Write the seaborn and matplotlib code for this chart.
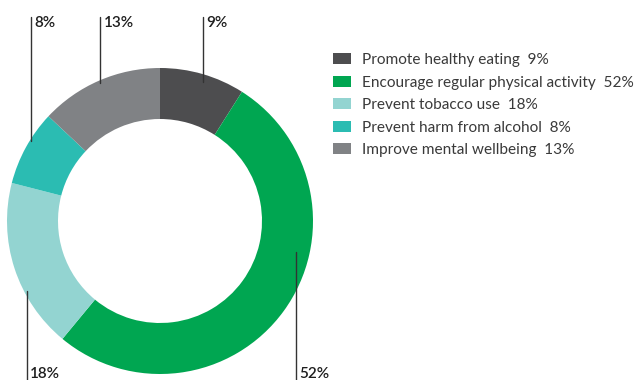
import matplotlib
matplotlib.use("Agg")
import matplotlib.pyplot as plt
import seaborn as sns
import numpy as np

categories = ["Promote healthy eating", "Encourage regular physical activity",
              "Prevent tobacco use", "Prevent harm from alcohol",
              "Improve mental wellbeing"]
shares = [9, 52, 18, 8, 13]
colors = ["#4d4d4f", "#00a651", "#93d4d1", "#2bbcb2", "#808285"]
# which labels go above the ring and which go below
label_side = ["top", "bottom", "bottom", "top", "top"]
# where along each wedge (0 = start, 1 = end) the leader line starts,
# and at what fraction of the outer radius
label_frac = [0.53, 0.376, 0.35, 0.60, 0.50]
label_rad = [0.95, 0.91, 0.98, 0.99, 0.98]

sns.set_style("white")
plt.rcParams["font.family"] = ["Lato", "DejaVu Sans"]

fig = plt.figure(figsize=(6.4, 3.8), dpi=100)
ax = fig.add_axes([0, 0, 1, 1])

R = 153
cx, cy = 160, 159
wedges, _ = ax.pie(shares, colors=colors, startangle=90, counterclock=False,
                   radius=R, center=(cx, cy), frame=True,
                   wedgeprops=dict(width=51, linewidth=0))
# axes measured in pixels, y up
ax.set_xlim(0, 640)
ax.set_ylim(0, 380)
ax.set_aspect("equal")
ax.axis("off")

for w, s, side, f, r in zip(wedges, shares, label_side, label_frac, label_rad):
    # counterclock=False -> theta2 is the start, theta1 the end
    deg = w.theta2 - f * (w.theta2 - w.theta1)
    ang = np.deg2rad(deg)
    x0 = cx + r * R * np.cos(ang)
    y0 = cy + r * R * np.sin(ang)
    if side == "top":
        ax.plot([x0, x0], [y0, 363], color="#333333", lw=1.0)
        ax.text(x0 + 3, 364, f"{s}%", ha="left", va="top", fontsize=11,
                color="#1e1e1e", fontweight="semibold")
    else:
        ax.plot([x0, x0], [y0, 0], color="#333333", lw=1.0)
        ax.text(x0 + 3, 13, f"{s}%", ha="left", va="top", fontsize=11,
                color="#1e1e1e", fontweight="semibold")

labels = [f"{c}  {s}%" for c, s in zip(categories, shares)]
leg = ax.legend(wedges, labels, loc="upper left",
                bbox_to_anchor=(333, 327), bbox_transform=ax.transData,
                frameon=False, fontsize=11.1, handlelength=1.15,
                handleheight=0.75, handletextpad=0.75, labelspacing=0.55,
                borderaxespad=0, borderpad=0)
for t in leg.get_texts():
    t.set_color("#3a3a3a")

fig.savefig("out.png", dpi=100)
